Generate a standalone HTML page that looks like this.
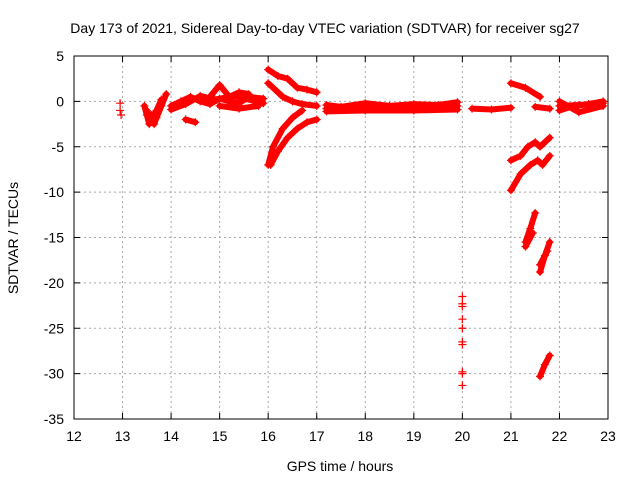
<!DOCTYPE html>
<html><head><meta charset="utf-8"><style>
body{margin:0;background:#fff}
svg text{font-family:"Liberation Sans",sans-serif;font-size:14px;fill:#000}
</style></head><body>
<svg id="c" width="640" height="480">
<rect x="0" y="0" width="640" height="480" fill="#fff"/>
<g id="grid"></g><g id="axes"></g><g id="marks"></g>
<text x="325" y="33" text-anchor="middle">Day 173 of 2021, Sidereal Day-to-day VTEC variation (SDTVAR) for receiver sg27</text>
<text x="340" y="471" text-anchor="middle">GPS time / hours</text>
<text transform="translate(18,238) rotate(-90)" text-anchor="middle">SDTVAR / TECUs</text>
</svg>
<script>
const xTicks=[12,13,14,15,16,17,18,19,20,21,22,23];
const yTicks=[5,0,-5,-10,-15,-20,-25,-30,-35];
const tracks=[
 [[13.45,-0.5],[13.5,-1.5],[13.55,-2.5],[13.6,-1.5],[13.65,-2.5],[13.7,-1.8],[13.8,-0.5],[13.9,0.8]],
 [[13.5,-1.0],[13.6,-2.0],[13.7,-1.0],[13.8,0.2]],
 [[14.0,-0.5],[14.2,0],[14.4,0.5],[14.6,0],[14.8,-0.3],[15.0,0.3],[15.2,0],[15.4,-0.2],[15.6,0.5],[15.9,0.3]],
 [[14.0,-0.9],[14.3,-0.3],[14.6,0.6],[14.9,0.2],[15.3,0.6],[15.9,-0.2]],
 [[14.8,0.5],[15.0,1.8],[15.2,0.5],[15.4,1.0],[15.6,0.8]],
 [[15.0,-0.5],[15.4,-0.8],[15.8,-0.5]],
 [[14.3,-2.0],[14.5,-2.3]],
 [[16.0,3.5],[16.2,2.8],[16.4,2.5],[16.6,1.5],[16.8,1.3],[17.0,1.0]],
 [[16.0,2.0],[16.3,0.5],[16.5,0.0],[16.7,-0.3],[17.0,-0.5]],
 [[16.0,-7.0],[16.1,-5.0],[16.3,-3.0],[16.5,-1.8],[16.7,-1.0]],
 [[16.05,-7],[16.2,-5.5],[16.4,-4.0],[16.6,-3.0],[16.8,-2.3],[17.0,-2.0]],
 [[17.2,-0.4],[17.5,-0.6],[18,-0.2],[18.5,-0.5],[19,-0.3],[19.5,-0.4],[19.9,-0.1]],
 [[17.2,-0.8],[17.5,-0.9],[18,-0.6],[18.5,-0.7],[19,-0.6],[19.5,-0.7],[19.9,-0.5]],
 [[17.2,-1.1],[18,-1.0],[19,-1.0],[19.9,-0.9]],
 [[20.2,-0.8],[20.6,-0.9],[21.0,-0.7]],
 [[21.0,2.0],[21.3,1.5],[21.6,0.5]],
 [[21.5,-0.6],[21.8,-0.8]],
 [[22.0,-1.0],[22.3,-0.5],[22.6,-0.3],[22.9,0]],
 [[22.0,0],[22.4,-1.2],[22.9,-0.5]],
 [[22.0,-0.5],[22.4,-0.4],[22.9,-0.2]],
 [[21.0,-6.5],[21.2,-6.0],[21.35,-5.0],[21.5,-4.5],[21.6,-5.0],[21.8,-4.0]],
 [[21.0,-9.8],[21.2,-8.0],[21.4,-7.0],[21.55,-6.5],[21.65,-7.0],[21.8,-6.0]],
 [[21.3,-15.5],[21.4,-14.0],[21.5,-12.3]],
 [[21.3,-16],[21.45,-14.5]],
 [[21.6,-18.8],[21.7,-17.0],[21.8,-15.5]],
 [[21.6,-18],[21.75,-16.5]],
 [[21.6,-30.3],[21.7,-29.0],[21.8,-28.0]]
];
const singles=[[12.95,-0.2],[12.95,-1.0],[12.97,-1.5],[20.0,-21.5],[20.0,-22.3],[20.0,-22.6],[20.0,-24],[20.0,-25],[20.0,-26.5],[20.0,-26.8],[20.0,-29.8],[20.0,-30],[20.0,-31.3]];
const X=t=>74+(t-12)*534/11, Y=v=>56+(5-v)*363/40;
const NS='http://www.w3.org/2000/svg';
function mk(tag,a,p){const e=document.createElementNS(NS,tag);for(const k in a)e.setAttribute(k,a[k]);p.appendChild(e);return e;}
const g=document.getElementById('grid'),ax=document.getElementById('axes'),m=document.getElementById('marks');
xTicks.forEach(t=>{
 if(t>12&&t<23){const l=mk('line',{x1:X(t),x2:X(t),y1:56,y2:419,stroke:'#a8a8a8','stroke-dasharray':'2,3'},g);
 }
 mk('line',{x1:X(t),x2:X(t),y1:419,y2:413,stroke:'#000'},ax);mk('line',{x1:X(t),x2:X(t),y1:56,y2:62,stroke:'#000'},ax);
 const tx=mk('text',{x:X(t),y:441,'text-anchor':'middle'},ax);tx.textContent=t;
 
});
yTicks.forEach(v=>{
 if(v<5&&v>-35){const l=mk('line',{x1:74,x2:608,y1:Y(v),y2:Y(v),stroke:'#a8a8a8','stroke-dasharray':'2,3'},g);
 }
 mk('line',{x1:74,x2:80,y1:Y(v),y2:Y(v),stroke:'#000'},ax);mk('line',{x1:608,x2:602,y1:Y(v),y2:Y(v),stroke:'#000'},ax);
 const tx=mk('text',{x:64,y:Y(v)+5,'text-anchor':'end'},ax);tx.textContent=v;
 
});
const fr=mk('rect',{x:74,y:56,width:534,height:363,fill:'none',stroke:'#000'},ax);

tracks.forEach(tr=>{
 const pl=mk('polyline',{points:tr.map(p=>X(p[0])+','+Y(p[1])).join(' '),fill:'none',stroke:'#f00','stroke-width':6,'stroke-linejoin':'round','stroke-linecap':'round'},m);
 
 tr.forEach(p=>{const pt=mk('path',{d:`M${X(p[0])-4},${Y(p[1])}h8M${X(p[0])},${Y(p[1])-4}v8`,stroke:'#f00','stroke-width':1.2},m);
  });
});
singles.forEach(p=>{const pt=mk('path',{d:`M${X(p[0])-4},${Y(p[1])}h8M${X(p[0])},${Y(p[1])-4}v8`,stroke:'#f00','stroke-width':1.2},m);
 });
</script>
</body></html>
